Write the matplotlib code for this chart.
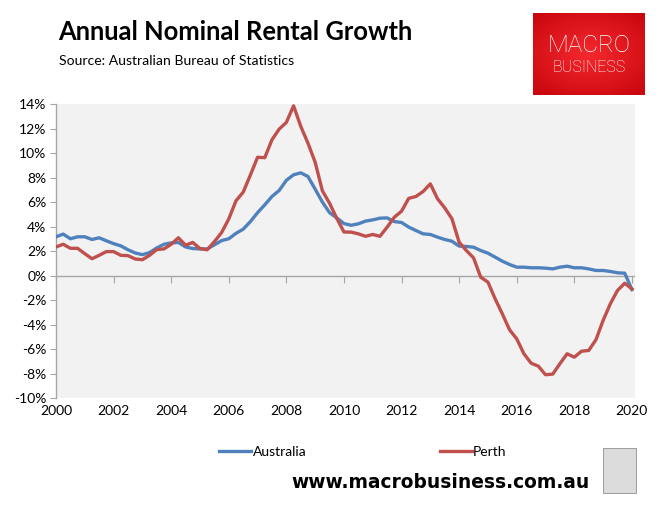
import numpy as np
import matplotlib
matplotlib.use("Agg")
import matplotlib.pyplot as plt
from matplotlib.patches import Rectangle
from matplotlib.lines import Line2D
import matplotlib.transforms as mtransforms

# ---------------- data ----------------
start_year = 2000
n_quarters = 81
australia = [3.16, 3.38, 3.0, 3.16,
             3.16, 2.94, 3.08, 2.83,
             2.6, 2.42, 2.1, 1.84,
             1.7, 1.87, 2.25, 2.55,
             2.66, 2.7, 2.33, 2.2,
             2.17, 2.17, 2.5, 2.85,
             3.0, 3.44, 3.78, 4.4,
             5.13, 5.77, 6.45, 6.94,
             7.77, 8.22, 8.38, 8.08,
             7.05, 6.0, 5.13, 4.7,
             4.24, 4.1, 4.22, 4.44,
             4.54, 4.68, 4.7, 4.4,
             4.33, 3.95, 3.67, 3.4,
             3.35, 3.13, 2.94, 2.8,
             2.4, 2.37, 2.31, 2.04,
             1.82, 1.5, 1.17, 0.9,
             0.68, 0.68, 0.63, 0.63,
             0.6, 0.54, 0.68, 0.76,
             0.63, 0.63, 0.54, 0.41,
             0.41, 0.33, 0.22, 0.19,
             -1.15]
perth = [2.33, 2.55, 2.22, 2.22,
         1.78, 1.37, 1.65, 1.95,
         1.95, 1.65, 1.62, 1.35,
         1.29, 1.65, 2.12, 2.17,
         2.55, 3.08, 2.47, 2.7,
         2.2, 2.1, 2.76, 3.5,
         4.62, 6.1, 6.8, 8.2,
         9.65, 9.62, 11.08, 11.95,
         12.5, 13.85, 12.18, 10.8,
         9.25, 6.92, 5.9, 4.67,
         3.55, 3.54, 3.4, 3.2,
         3.35, 3.2, 3.95, 4.76,
         5.25, 6.3, 6.45, 6.86,
         7.48, 6.26, 5.52, 4.63,
         2.72, 2.04, 1.44, -0.14,
         -0.54, -1.9, -3.13, -4.43,
         -5.17, -6.39, -7.16, -7.4,
         -8.1, -8.05, -7.2, -6.39,
         -6.67, -6.18, -6.12, -5.25,
         -3.67, -2.31, -1.22, -0.63,
         -1.1]
series_names = ["Australia", "Perth"]
x_ticks = [2000, 2002, 2004, 2006, 2008, 2010, 2012, 2014, 2016, 2018, 2020]
y_ticks = [14, 12, 10, 8, 6, 4, 2, 0, -2, -4, -6, -8, -10]

title = "Annual Nominal Rental Growth"
subtitle = "Source: Australian Bureau of Statistics"
footer = "www.macrobusiness.com.au"

dates = start_year + np.arange(n_quarters) / 4.0

# ---------------- figure ----------------
W, H = 660, 511
fig = plt.figure(figsize=(W / 100, H / 100), dpi=100)
fig.patch.set_facecolor("white")

def fx(px):
    return px / W

def fy(py):
    return 1 - py / H

ax = fig.add_axes([fx(56), fy(398), fx(634.5) - fx(56), fy(104) - fy(398)])
ax.set_facecolor("#F2F2F2")

blue = "#4F81BD"
red = "#C0504D"
ax.plot(dates, australia, color=blue, lw=2.4, solid_joinstyle="round", zorder=3)
ax.plot(dates, perth, color=red, lw=2.4, solid_joinstyle="round", zorder=3)

ax.set_xlim(2000, 2020.09)
ax.set_ylim(-10, 14)

for s in ["top", "right"]:
    ax.spines[s].set_visible(False)
ax.spines["left"].set_color("#A6A6A6")
ax.spines["left"].set_linewidth(1.0)
ax.spines["bottom"].set_position(("data", 0))
ax.spines["bottom"].set_color("#A6A6A6")
ax.spines["bottom"].set_linewidth(1.0)

ax.set_yticks(y_ticks)
ax.set_yticklabels([f"{v}%" for v in y_ticks])
ax.tick_params(axis="y", direction="out", length=4, color="#A6A6A6",
               labelsize=10, labelcolor="black", pad=3)
ax.set_xticks(x_ticks)
ax.tick_params(axis="x", direction="out", length=5, color="#A6A6A6",
               labelbottom=False)
for lab in ax.get_yticklabels():
    lab.set_family(["Lato", "DejaVu Sans"])

trans = mtransforms.blended_transform_factory(ax.transData, ax.transAxes)
for yr in x_ticks:
    ax.text(yr, -0.025, str(yr), transform=trans, ha="center", va="top",
            fontsize=10, family=["Lato", "DejaVu Sans"], color="black")

# ---------------- titles ----------------
fig.text(fx(58), fy(32), title, fontsize=18.4, fontweight="bold",
         family=["Lato", "DejaVu Sans"], ha="left", va="center", color="black")
fig.text(fx(59), fy(61), subtitle, fontsize=10.1,
         family=["Lato", "DejaVu Sans"], ha="left", va="center", color="black")

# ---------------- logo ----------------
lax = fig.add_axes([fx(533), fy(95), fx(645) - fx(533), fy(13) - fy(95)])
gy, gx = np.mgrid[-1:1:100j, -1:1:140j]
r = np.sqrt((gx * 0.9) ** 2 + gy ** 2)
r = np.clip(r / 1.35, 0, 1)
c_in = np.array([0.96, 0.16, 0.18])
c_out = np.array([0.78, 0.02, 0.05])
img = c_in[None, None, :] * (1 - r[..., None]) + c_out[None, None, :] * r[..., None]
lax.imshow(img, extent=[0, 1, 0, 1], aspect="auto")
lax.set_xlim(0, 1)
lax.set_ylim(0, 1)
lax.axis("off")
lax.text(0.5, 0.6, "MACRO", transform=lax.transAxes, ha="center", va="center",
         color="white", fontsize=17.5, family=["Roboto", "DejaVu Sans"],
         fontweight="light")
lax.text(0.5, 0.33, "BUSINESS", transform=lax.transAxes, ha="center", va="center",
         color="white", fontsize=11.5, family=["Roboto", "DejaVu Sans"],
         fontweight="light")

# ---------------- legend ----------------
handles = [Line2D([], [], color=blue, lw=2.4), Line2D([], [], color=red, lw=2.4)]
fig.legend(handles, series_names, loc="center", bbox_to_anchor=(fx(363), fy(452)),
           ncol=2, frameon=False, handlelength=2.3, handletextpad=0.1,
           columnspacing=9.6, prop={"family": ["Lato", "DejaVu Sans"], "size": 10})

# ---------------- footer ----------------
fig.text(fx(440), fy(482), footer, fontsize=13.4, fontweight="bold",
         family=["DejaVu Sans"], ha="center", va="center", color="black")

# wolf picture placeholder
wax = fig.add_axes([fx(603), fy(494), fx(637) - fx(603), fy(448) - fy(494)])
wax.add_patch(Rectangle((0, 0), 1, 1, facecolor="#DCDCDC", edgecolor="#A0A0A0",
                        lw=1.5, transform=wax.transAxes))
wax.axis("off")

fig.savefig("out.png", dpi=100)
